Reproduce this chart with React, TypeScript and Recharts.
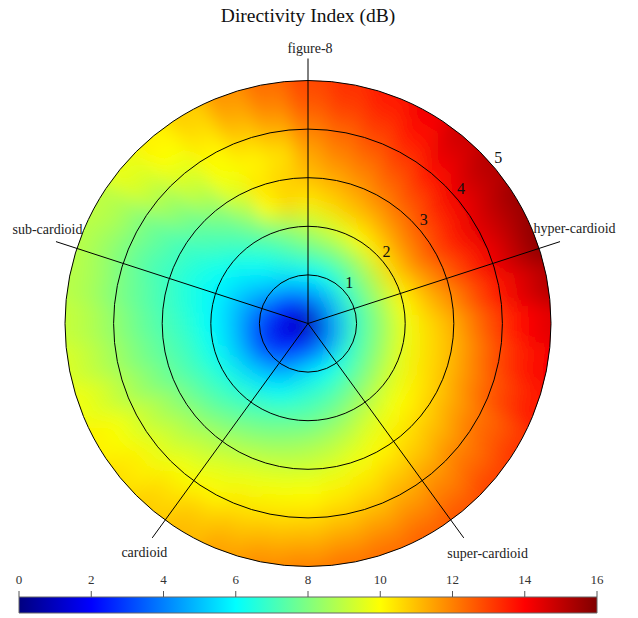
import React from "react";
import {
  PieChart,
  Pie,
  Cell,
  RadarChart,
  Radar,
  PolarGrid,
  PolarAngleAxis,
  PolarRadiusAxis,
  BarChart,
  Bar,
  XAxis,
  YAxis,
} from "recharts";

// spoke labels, clockwise from the top (angle axis starts at 90deg)
const PATTERNS = ["figure-8", "hyper-cardioid", "super-cardioid", "cardioid", "sub-cardioid"];
const RING_TICKS = [1, 2, 3, 4, 5];
const CBAR_TICKS = [0, 2, 4, 6, 8, 10, 12, 14, 16];

// sample grid of the map: radius (0..5) and angle in degrees, counter-clockwise from 3 o'clock
const RADII = [0, 0.5, 1, 1.5, 2, 2.5, 3, 3.5, 4, 4.5, 5];
const ANGLES = [
  0, 10, 20, 30, 40, 50, 60, 70, 80, 90, 100, 110, 120, 130, 140, 150, 160, 170,
  180, 190, 200, 210, 220, 230, 240, 250, 260, 270, 280, 290, 300, 310, 320, 330, 340, 350,
];

// directivity index (dB), one row per angle, one column per radius
const DI: number[][] = [
  [0.8, 4.5, 7.0, 8.3, 9.8, 10.6, 11.3, 12.3, 13.2, 14.0, 14.5], // 0
  [0.8, 4.6, 7.0, 8.4, 10.0, 11.0, 11.8, 12.8, 13.7, 14.5, 15.2], // 10
  [0.8, 4.6, 7.0, 8.5, 10.2, 11.4, 12.4, 13.3, 14.2, 15.0, 15.8], // 20
  [0.8, 4.6, 6.9, 8.5, 10.5, 11.8, 12.8, 13.6, 14.4, 15.0, 15.6], // 30
  [0.8, 4.5, 6.8, 8.4, 10.4, 11.7, 12.6, 13.4, 14.2, 14.8, 15.2], // 40
  [0.8, 4.4, 6.6, 8.2, 10.2, 11.4, 12.3, 13.0, 13.8, 14.4, 14.8], // 50
  [0.8, 4.3, 6.4, 8.0, 10.0, 11.1, 12.0, 12.6, 13.2, 13.8, 14.2], // 60
  [0.8, 4.2, 6.2, 7.9, 9.6, 10.9, 11.6, 12.2, 12.8, 13.3, 13.7], // 70
  [0.8, 4.0, 6.0, 7.8, 9.3, 10.6, 11.3, 11.9, 12.4, 13.0, 13.3], // 80
  [0.8, 3.9, 5.9, 7.6, 8.9, 10.3, 11.0, 11.4, 12.0, 12.6, 12.9], // 90
  [0.8, 3.7, 5.8, 7.3, 8.5, 10.6, 10.7, 10.4, 11.2, 11.9, 12.3], // 100
  [0.8, 3.4, 5.6, 6.9, 7.9, 10.0, 10.4, 10.1, 10.7, 11.3, 11.7], // 110
  [0.8, 3.1, 5.4, 6.5, 7.4, 8.3, 9.4, 9.9, 10.1, 10.5, 10.8], // 120
  [0.8, 2.8, 5.1, 6.1, 6.9, 7.5, 8.2, 9.0, 9.5, 10.0, 10.2], // 130
  [0.8, 2.5, 4.8, 5.7, 6.4, 7.1, 7.5, 8.2, 8.8, 9.4, 9.7], // 140
  [0.8, 2.2, 4.4, 5.4, 6.1, 6.6, 7.0, 7.5, 8.0, 8.7, 9.0], // 150
  [0.8, 1.9, 4.0, 5.1, 5.9, 6.4, 6.9, 7.3, 7.9, 8.5, 8.9], // 160
  [0.8, 1.7, 3.6, 5.0, 5.9, 6.5, 7.0, 7.5, 8.0, 8.6, 8.9], // 170
  [0.8, 1.6, 3.3, 5.0, 6.0, 6.7, 7.2, 7.7, 8.3, 8.8, 9.1], // 180
  [0.8, 1.5, 3.1, 5.0, 6.1, 6.9, 7.4, 7.9, 8.5, 9.0, 9.4], // 190
  [0.8, 1.5, 3.0, 5.0, 6.2, 7.0, 7.6, 8.2, 8.8, 9.4, 9.8], // 200
  [0.8, 1.6, 3.1, 5.1, 6.4, 7.2, 8.0, 8.7, 9.3, 9.9, 10.2], // 210
  [0.8, 1.8, 3.4, 5.3, 6.6, 7.4, 8.3, 9.0, 9.6, 10.2, 10.5], // 220
  [0.8, 2.1, 3.8, 5.5, 6.8, 7.7, 8.6, 9.3, 9.9, 10.5, 10.8], // 230
  [0.8, 2.4, 4.2, 5.8, 7.1, 8.0, 8.9, 9.6, 10.1, 10.8, 11.1], // 240
  [0.8, 2.7, 4.7, 6.1, 7.3, 8.2, 9.1, 9.8, 10.4, 11.0, 11.5], // 250
  [0.8, 3.0, 5.2, 6.5, 7.5, 8.4, 9.2, 9.9, 10.5, 11.2, 11.8], // 260
  [0.8, 3.2, 5.6, 6.8, 7.6, 8.6, 9.3, 10.0, 10.6, 11.3, 12.0], // 270
  [0.8, 3.4, 5.8, 7.0, 7.9, 8.8, 9.5, 10.2, 10.8, 11.5, 12.2], // 280
  [0.8, 3.6, 6.0, 7.2, 8.2, 9.1, 9.8, 10.4, 11.0, 11.7, 12.3], // 290
  [0.8, 3.8, 6.2, 7.5, 8.6, 9.5, 10.1, 10.7, 11.3, 11.9, 12.5], // 300
  [0.8, 4.0, 6.4, 7.7, 8.9, 9.8, 10.4, 10.9, 11.6, 12.1, 12.7], // 310
  [0.8, 4.1, 6.6, 7.9, 9.2, 10.0, 10.6, 11.2, 11.9, 12.4, 13.0], // 320
  [0.8, 4.2, 6.8, 8.1, 9.4, 10.2, 10.8, 11.5, 12.2, 12.6, 13.2], // 330
  [0.8, 4.3, 6.9, 8.2, 9.6, 10.4, 11.0, 11.8, 12.6, 13.2, 13.7], // 340
  [0.8, 4.4, 7.0, 8.3, 9.7, 10.5, 11.1, 12.0, 12.9, 13.6, 14.1], // 350
];

const W = 622;
const H = 610;
const CX = 300;
const CY = 315.5;
const R_MAX = 243; // radius 5
const SPOKE = 265;
const LABEL_R = 275;
const DI_MAX = 16;
const FONT = "'Liberation Serif', 'DejaVu Serif', serif";

// jet colormap
function jet(v: number) {
  const t = Math.max(0, Math.min(1, v / DI_MAX));
  const c = (k: number) => Math.round(255 * Math.max(0, Math.min(1, 1.5 - Math.abs(4 * t - k))));
  return `rgb(${c(3)},${c(2)},${c(1)})`;
}

const STEP = ANGLES[1] - ANGLES[0];
const wedges = ANGLES.map((a) => ({ angle: a, span: 1 }));
const cbarData = [{ label: "DI", v: DI_MAX }];

const LABEL_NUDGE: Record<string, [number, number]> = {
  "figure-8": [2, 0],
  "hyper-cardioid": [5, -10],
  "sub-cardioid": [1, -9],
  cardioid: [-2, 7],
  "super-cardioid": [18, 8],
};

function AngleTick(props: any) {
  const { payload, index } = props;
  const deg = typeof payload?.coordinate === "number" ? payload.coordinate : 90 - 72 * index;
  const a = (deg * Math.PI) / 180;
  const [dx, dy] = LABEL_NUDGE[payload.value] ?? [0, 0];
  return (
    <text
      x={CX + LABEL_R * Math.cos(a) + dx}
      y={CY - LABEL_R * Math.sin(a) + dy}
      textAnchor="middle"
      dominantBaseline="central"
      fontFamily={FONT}
      fontSize={14}
      fill="#222"
    >
      {payload.value}
    </text>
  );
}

function RingTick(props: any) {
  const { x, y, payload } = props;
  return (
    <text
      x={x + 4}
      y={y - 10}
      textAnchor="middle"
      dominantBaseline="central"
      fontFamily={FONT}
      fontSize={16}
      fill="#111"
    >
      {payload.value}
    </text>
  );
}

export default function App() {
  return (
    <div style={{ position: "relative", width: W, height: H }}>
      <style>{`.heat-layer .recharts-pie { filter: url(#heatBlur); clip-path: url(#heatClip); }`}</style>
      <svg width={0} height={0} style={{ position: "absolute" }}>
        <defs>
          {DI.map((row, i) => (
            <radialGradient
              key={i}
              id={`heat-${i}`}
              gradientUnits="userSpaceOnUse"
              cx={CX}
              cy={CY}
              r={R_MAX}
            >
              {row.map((v, k) => (
                <stop key={k} offset={RADII[k] / RADII[RADII.length - 1]} stopColor={jet(v)} />
              ))}
            </radialGradient>
          ))}
          <filter id="heatBlur" x="-10%" y="-10%" width="120%" height="120%">
            <feGaussianBlur stdDeviation={9} />
          </filter>
          <clipPath id="heatClip">
            <circle cx={CX} cy={CY} r={R_MAX} />
          </clipPath>
          <linearGradient id="cbar" x1="0" x2="1" y1="0" y2="0">
            {CBAR_TICKS.map((v) => (
              <stop key={v} offset={v / DI_MAX} stopColor={jet(v)} />
            ))}
          </linearGradient>
        </defs>
      </svg>

      <div
        style={{
          position: "absolute",
          left: 0,
          top: 0,
          width: 600,
          textAlign: "center",
          fontFamily: FONT,
          fontSize: 19.5,
          lineHeight: "16px",
          color: "#111",
        }}
      >
        Directivity Index (dB)
      </div>

      <div className="heat-layer" style={{ position: "absolute", left: 0, top: 0 }}>
        <PieChart width={W} height={H} margin={{ top: 0, right: 0, bottom: 0, left: 0 }}>
          <Pie
            data={wedges}
            dataKey="span"
            cx={CX}
            cy={CY}
            innerRadius={0}
            outerRadius={R_MAX + 30}
            startAngle={-STEP / 2}
            endAngle={360 - STEP / 2}
            paddingAngle={0}
            stroke="none"
            isAnimationActive={false}
          >
            {wedges.map((w, i) => (
              <Cell key={w.angle} fill={`url(#heat-${i})`} stroke={`url(#heat-${i})`} strokeWidth={1} />
            ))}
          </Pie>
        </PieChart>
      </div>

      <div style={{ position: "absolute", left: 0, top: 0 }}>
        <RadarChart
          width={W}
          height={H}
          cx={CX}
          cy={CY}
          outerRadius={SPOKE}
          data={PATTERNS.map((name) => ({ name, z: 0 }))}
          margin={{ top: 0, right: 0, bottom: 0, left: 0 }}
        >
          <PolarGrid gridType="circle" stroke="#000" strokeWidth={1} strokeOpacity={1} />
          <PolarAngleAxis dataKey="name" axisLine={false} tickLine={false} tick={<AngleTick />} />
          <PolarRadiusAxis
            type="number"
            angle={40}
            domain={[0, (SPOKE / R_MAX) * RING_TICKS[RING_TICKS.length - 1]]}
            ticks={RING_TICKS as any}
            axisLine={false}
            tickLine={false}
            tick={<RingTick />}
          />
          <Radar dataKey="z" fill="none" stroke="none" dot={false} isAnimationActive={false} />
        </RadarChart>
      </div>

      <div style={{ position: "absolute", left: 0, top: 552 }}>
        <BarChart
          width={W}
          height={58}
          layout="vertical"
          data={cbarData}
          margin={{ top: 7, right: 33, bottom: 5, left: 11 }}
          barCategoryGap={0}
        >
          <XAxis
            type="number"
            orientation="top"
            domain={[0, DI_MAX]}
            ticks={CBAR_TICKS}
            height={30}
            tickSize={6}
            tickMargin={7}
            axisLine={false}
            tickLine={{ stroke: "#555" }}
            tick={{ fontFamily: FONT, fontSize: 13, fill: "#333" }}
            interval={0}
          />
          <YAxis type="category" dataKey="label" hide />
          <Bar dataKey="v" fill="url(#cbar)" stroke="#666" strokeWidth={1} isAnimationActive={false} />
        </BarChart>
      </div>
    </div>
  );
}
